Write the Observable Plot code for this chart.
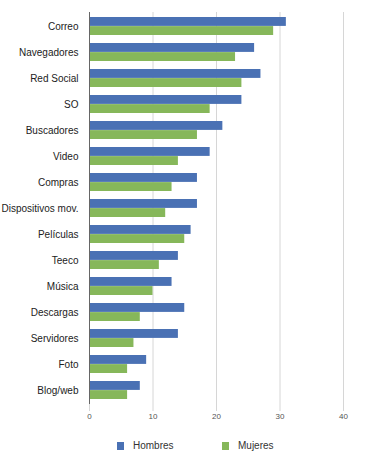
<!DOCTYPE html>
<html>
<head>
<meta charset="utf-8">
<script src="https://cdn.jsdelivr.net/npm/d3@7"></script>
<script src="https://cdn.jsdelivr.net/npm/@observablehq/plot@0.6"></script>
<style>
  body { margin: 0; background: #fff; font-family: "Liberation Sans", Arial, sans-serif; }
  #chart { width: 368px; }
  .legend { position: relative; height: 43px; font-size: 10px; color: #333; }
  .item { position: absolute; top: 18px; display: flex; align-items: center; }
  .sw { width: 7px; height: 8px; margin-right: 9px; }
</style>
</head>
<body>
<div id="chart"></div>
<script>
const categories = ["Correo","Navegadores","Red Social","SO","Buscadores","Video","Compras","Dispositivos mov.","Películas","Teeco","Música","Descargas","Servidores","Foto","Blog/web"];
const hombres = [31, 26, 27, 24, 21, 19, 17, 17, 16, 14, 13, 15, 14, 9, 8];
const mujeres = [29, 23, 24, 19, 17, 14, 13, 12, 15, 11, 10, 8, 7, 6, 6];
const xTicks = [0, 10, 20, 30, 40];
const seriesNames = ["Hombres", "Mujeres"];
const colors = ["#4a71b4", "#86b75a"];

const dataH = categories.map((c, i) => ({cat: c, value: hombres[i]}));
const dataM = categories.map((c, i) => ({cat: c, value: mujeres[i]}));

const bw = 18.2;
const plot = Plot.plot({
  width: 368,
  height: 422,
  marginLeft: 89,
  marginRight: 25,
  marginTop: 12,
  marginBottom: 18,
  style: {fontFamily: "Liberation Sans, Arial, sans-serif", background: "#fff"},
  x: {domain: [0, 40], ticks: xTicks},
  y: {domain: categories, paddingInner: 0.31, paddingOuter: 0.12},
  marks: [
    Plot.gridX(xTicks, {stroke: "#d6d6d6", strokeOpacity: 1}),
    Plot.axisX(xTicks, {tickSize: 7, tickPadding: 2, stroke: "#d6d6d6", fill: "#555", fontSize: 8, label: null}),
    Plot.axisY({tickSize: 0, tickPadding: 11, fontSize: 10, fill: "#222", label: null}),
    Plot.barX(dataH, {x: "value", y: "cat", fill: colors[0], insetBottom: bw / 2}),
    Plot.barX(dataM, {x: "value", y: "cat", fill: colors[1], insetTop: bw / 2}),
    Plot.ruleX([0], {stroke: "#666", strokeWidth: 1})
  ]
});
document.getElementById("chart").appendChild(plot);

const legend = document.createElement("div");
legend.className = "legend";
const lefts = [117, 222];
seriesNames.forEach((name, i) => {
  const it = document.createElement("div");
  it.className = "item";
  it.style.left = lefts[i] + "px";
  const sw = document.createElement("span");
  sw.className = "sw";
  sw.style.background = colors[i];
  const t = document.createElement("span");
  t.textContent = name;
  it.appendChild(sw);
  it.appendChild(t);
  legend.appendChild(it);
});
document.getElementById("chart").appendChild(legend);
</script>
</body>
</html>
